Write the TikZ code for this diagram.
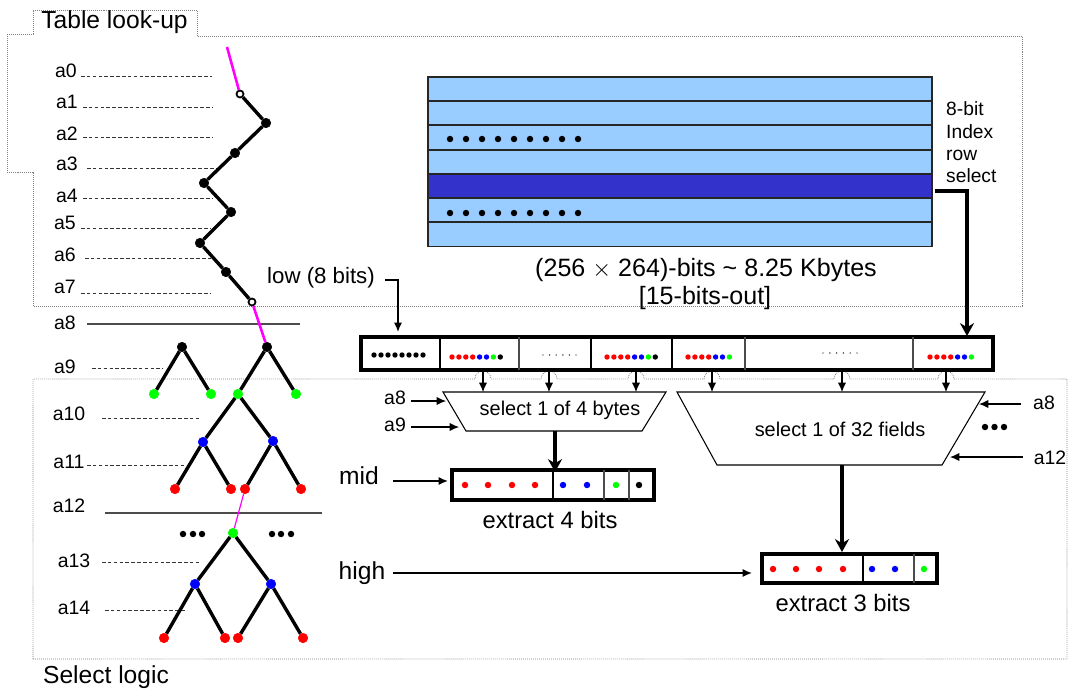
\documentclass[tikz,border=0pt]{standalone}
\usepackage{fontspec}
\setmainfont{Liberation Sans}
\usetikzlibrary{arrows.meta}
\definecolor{rowlight}{RGB}{153,204,255}
\definecolor{rowdark}{RGB}{51,51,204}
\definecolor{walkpink}{RGB}{255,0,255}
\tikzset{
  addr/.style={font=\fontsize{16.6}{18}\selectfont,inner sep=0pt},
  caption/.style={font=\fontsize{20.3}{22}\selectfont,inner sep=0pt},
  bigcaption/.style={font=\fontsize{21}{24}\selectfont,inner sep=0pt},
  muxtext/.style={font=\fontsize{17}{19}\selectfont,inner sep=0pt},
  rowtext/.style={font=\fontsize{16.4}{18}\selectfont,inner sep=0pt,anchor=west},
  region/.style={densely dotted,gray,line width=0.7pt},
  level/.style={densely dashed,black!80,line width=0.7pt},
  edgeline/.style={line width=2.9pt},
  walk/.style={walkpink,line width=2.2pt},
  treedot/.style={circle,fill=#1,draw=#1,inner sep=0pt,minimum size=8.2pt},
  holdot/.style={circle,fill=white,draw=black,line width=1.5pt,inner sep=0pt,minimum size=6pt},
  bitdot/.style={circle,fill=#1,inner sep=0pt,minimum size=4.6pt},
  tinydot/.style={circle,fill=black,inner sep=0pt,minimum size=1.2pt},
  bigdot/.style={circle,fill=black,inner sep=0pt,minimum size=5.5pt},
  frame/.style={line width=3.2pt},
  sep/.style={line width=1.8pt},
  graysep/.style={line width=1.4pt,black!70},
  thinarrow/.style={-{Latex[length=8pt,width=7pt]},line width=0.9pt},
  thickarrow/.style={-{Stealth[length=11pt,width=12pt]},line width=2.6pt},
}
\newcommand{\fieldbits}[3]{%
  \foreach \i/\c in {0/red,1/red,2/red,3/red,4/blue,5/blue,6/green,7/black} {
    \ifnum\i<#3 \node[bitdot=\c] (f#1-\i) at ({#1+\i*6.9},#2) {}; \fi
  }
}
\begin{document}
\begin{tikzpicture}[x=0.03cm,y=-0.03cm]
\useasboundingbox (0,0) rectangle (1069,689);
% regions
\draw[region] (7,34)--(33,34)--(33,10)--(197,10)--(197,36)--(1022,36)--(1022,306)--(33,306)--(33,172)--(7,172)--cycle;
\draw[region] (33,659)--(33,379)--(475,379) arc[start angle=180,end angle=360,radius=8]
  --(541,379) arc[start angle=180,end angle=360,radius=8]
  --(628,379) arc[start angle=180,end angle=360,radius=8]
  --(704,379) arc[start angle=180,end angle=360,radius=8]
  --(834,379) arc[start angle=180,end angle=360,radius=8]
  --(938,379) arc[start angle=180,end angle=360,radius=8]
  --(1067,379)--(1067,659)--cycle;
\node[bigcaption] (tablelookup) at (114.5,22) {Table look-up};
\node[bigcaption] (selectlogic) at (106,677) {Select logic};
% address levels
\foreach \n/\lx/\ly/\xa/\xb/\yy in {0/66/71/81/212/76,1/67/102/83/213/107,2/67/134/83/213/137,3/67/164/87/218/168,
  4/67/196/83/213/198,5/65/223/81/211/228,6/65/255/85/211/258,7/65/287/81/211/293,9/65/367/92/163/368,
  10/69/414/102/199/418,11/69/462/87/184/465,13/74/561/102/199/562,14/74/608/105/185/610} {
  \node[addr] (a\n) at (\lx,\ly) {a\n};
  \coordinate (la\n) at (\xa,\yy);
  \coordinate (lb\n) at (\xb,\yy);
  \draw[level] (la\n)--(lb\n);
}
\node[addr] (a8) at (65,323) {a8};
\node[addr] (a12) at (69,506) {a12};
\coordinate (la8) at (87,324);
\coordinate (lb8) at (300,324);
\coordinate (la12) at (105,513);
\coordinate (lb12) at (322,513);
\draw[line width=1.2pt,black!70] (la8)--(lb8);
\draw[line width=1.2pt,black!70] (la12)--(lb12);
% zigzag walk
\coordinate (start) at (227,47);
\node[holdot] (z1) at (240,94) {};
\node[treedot=black] (z2) at (266,123) {};
\node[treedot=black] (z3) at (235,153) {};
\node[treedot=black] (z4) at (204,183) {};
\node[treedot=black] (z5) at (231,212) {};
\node[treedot=black] (z6) at (200,243) {};
\node[treedot=black] (z7) at (226,272) {};
\node[holdot] (z8) at (252,302) {};
\draw[edgeline] (z1)--(z2)--(z3)--(z4)--(z5)--(z6)--(z7)--(z8);
% trees
\node[treedot=black] (ra) at (182,347) {};
\node[treedot=green] (raa) at (154,394) {};
\node[treedot=green] (rab) at (211,394) {};
\node[treedot=black] (rb) at (267,347) {};
\node[treedot=green] (rba) at (238,394) {};
\node[treedot=green] (rbb) at (296,394) {};
\node[treedot=blue] (ca) at (203,442) {};
\node[treedot=blue] (cb) at (273,441) {};
\node[treedot=red] (caa) at (175,489) {};
\node[treedot=red] (cab) at (231,489) {};
\node[treedot=red] (cba) at (245,489) {};
\node[treedot=red] (cbb) at (301,489) {};
\node[treedot=green] (sr) at (233,533) {};
\node[treedot=blue] (sa) at (195,584) {};
\node[treedot=blue] (sb) at (271,584) {};
\node[treedot=red] (saa) at (164,638) {};
\node[treedot=red] (sab) at (225,638) {};
\node[treedot=red] (sba) at (238,638) {};
\node[treedot=red] (sbb) at (303,638) {};
\draw[edgeline] (raa)--(ra)--(rab) (rba)--(rb)--(rbb);
\draw[edgeline] (ca)--(rba)--(cb) (caa)--(ca)--(cab) (cba)--(cb)--(cbb);
\draw[edgeline] (sa)--(sr)--(sb) (saa)--(sa)--(sab) (sba)--(sb)--(sbb);
\draw[walk] (start)--(z1);
\draw[walk] (z8)--(rb);
\draw[walkpink,line width=1pt] (cba)--(sr);
\foreach \x in {183,193,202,272,281,291} \node[bigdot] (e\x) at (\x,534) {};
% table
\foreach \y/\c in {77/rowlight,101/rowlight,125/rowlight,150/rowlight,174/rowdark,198/rowlight,222/rowlight}
  \draw[fill=\c,draw=black!85,line width=0.9pt] (428,\y) rectangle (932,\y+24.3);
\foreach \i in {0,...,8} {
  \node[bigdot] (ta\i) at ({450+\i*16},139) {};
  \node[bigdot] (tb\i) at ({450+\i*16},213) {};
}
\node[rowtext] (rowa) at (946,109) {8-bit};
\node[rowtext] (rowb) at (946,132) {Index};
\node[rowtext] (rowc) at (946,155) {row};
\node[rowtext] (rowd) at (946,176) {select};
\node[bigcaption,font=\fontsize{21.4}{24}\selectfont] (size) at (706,270) {(256 $\times$ 264)-bits \textasciitilde{} 8.25 Kbytes};
\node[bigcaption,font=\fontsize{21.4}{24}\selectfont] (out) at (705,298) {[15-bits-out]};
% cache line
\draw[frame] (361,337) rectangle (993,370);
\draw[sep] (440,337)--(440,370) (591,337)--(591,370) (672,337)--(672,370);
\draw[graysep] (519,337)--(519,370) (745,337)--(745,370) (913,337)--(913,370);
\foreach \i in {0,...,7} \node[bitdot=black] (low\i) at ({374+\i*7},355) {};
\fieldbits{452}{357}{8}
\fieldbits{607}{357}{8}
\fieldbits{688}{357}{7}
\fieldbits{930}{357}{7}
\foreach \i in {0,...,5} {
  \node[tinydot] (ga\i) at ({543+\i*6.6},355) {};
  \node[tinydot] (gb\i) at ({823+\i*6.8},353) {};
}
% muxes
\draw[line width=0.9pt] (443,392)--(666,392)--(642,431)--(466,431)--cycle;
\draw[line width=0.9pt] (677,392)--(985,392)--(942,465)--(717,465)--cycle;
\node[muxtext] (sel4) at (560,410) {select 1 of 4 bytes};
\node[muxtext] (sel32) at (840,429) {select 1 of 32 fields};
\foreach \x in {483,549,636,712,842,946} {
  \coordinate (up\x) at (\x,371);
  \coordinate (dn\x) at (\x,392);
  \draw[thinarrow] (up\x)--(dn\x);
}
\foreach \i in {0,...,2} \node[bigdot] (m\i) at ({985+\i*9.5},427) {};
% extract boxes
\draw[frame] (452,470) rectangle (654,500);
\draw[sep] (553,470)--(553,500);
\draw[graysep] (604,470)--(604,500) (629,470)--(629,500);
\foreach \x/\c in {465/red,488/red,512/red,535/red,563/blue,587/blue,616/green,639/black}
  \node[circle,fill=\c,inner sep=0pt,minimum size=5.5pt] (p\x) at (\x,485) {};
\node[caption] (ext4) at (550,520) {extract 4 bits};
\draw[frame] (762,554) rectangle (937,583);
\draw[sep] (863,554)--(863,583);
\draw[graysep] (914,554)--(914,583);
\foreach \x/\c in {773/red,796/red,819/red,843/red,872/blue,895/blue,924/green}
  \node[circle,fill=\c,inner sep=0pt,minimum size=5.5pt] (q\x) at (\x,569) {};
\node[caption] (ext3) at (843,603) {extract 3 bits};
% inputs
\node[font=\fontsize{19}{21}\selectfont,inner sep=0pt] (low) at (321,278) {low (8 bits)};
\node[font=\fontsize{21}{23}\selectfont,inner sep=0pt] (mid) at (359,476) {mid};
\node[font=\fontsize{21}{23}\selectfont,inner sep=0pt] (high) at (362,573) {high};
\coordinate (lowa) at (385,280);
\coordinate (lowb) at (398,280);
\coordinate (lowc) at (398,332);
\draw[thinarrow,line width=1.3pt] (lowa)--(lowb)--(lowc);
\coordinate (rowout) at (935,191);
\coordinate (rowturn) at (967,191);
\coordinate (rowin) at (967,336);
\draw[thickarrow] (rowout)--(rowturn)--(rowin);
\coordinate (mida) at (393,481);
\coordinate (midb) at (448,481);
\draw[thinarrow,line width=1.3pt] (mida)--(midb);
\coordinate (higha) at (393,573);
\coordinate (highb) at (752,573);
\draw[thinarrow,line width=1.3pt] (higha)--(highb);
\coordinate (m4out) at (555,431);
\coordinate (m4in) at (555,472);
\draw[thickarrow] (m4out)--(m4in);
\coordinate (m32out) at (842,465);
\coordinate (m32in) at (842,552);
\draw[thickarrow] (m32out)--(m32in);
% select inputs
\node[addr] (ia8) at (395,398) {a8};
\node[addr] (ia9) at (395,425) {a9};
\node[addr] (ib8) at (1044,403) {a8};
\node[addr] (ib12) at (1050,458) {a12};
\coordinate (ta8) at (446,401);
\coordinate (ta9) at (459,427);
\coordinate (tb8) at (979,404);
\coordinate (tb12) at (950,457);
\draw[thinarrow] (ia8)++(16,3)--(ta8);
\draw[thinarrow] (ia9)++(16,2)--(ta9);
\draw[thinarrow] (ib8)++(-23,1)--(tb8);
\draw[thinarrow] (ib12)++(-27,-1)--(tb12);
\end{tikzpicture}
\end{document}
